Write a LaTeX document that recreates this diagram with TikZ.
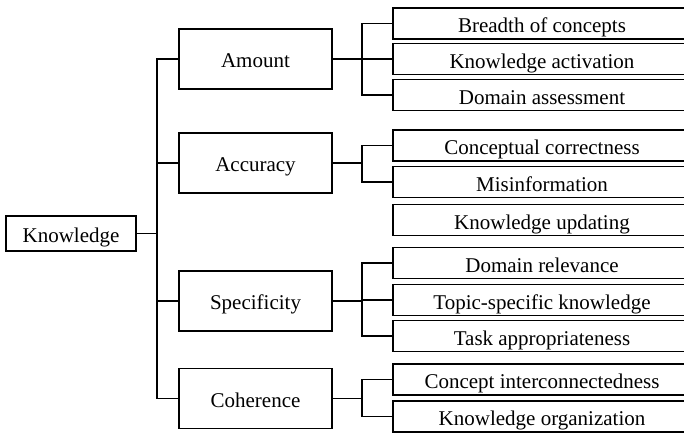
\documentclass[tikz,border=0pt]{standalone}
\usepackage{fontspec}
\setmainfont{Liberation Serif}
\begin{document}
\begin{tikzpicture}[x=1pt,y=-1pt,
  every node/.style={font=\fontsize{21}{25}\selectfont},
  box/.style={draw=black,line width=1.3pt,inner sep=0pt,fill=white,text height=19pt,text depth=2pt},
  rootbox/.style={box,minimum width=130pt,minimum height=35pt},
  midbox/.style={box,minimum width=153pt,minimum height=60pt},
  leafbox/.style={box,minimum width=298pt,minimum height=31pt,text height=19.5pt,text depth=1.5pt},
  conn/.style={draw=black,line width=1.3pt}]
\useasboundingbox (0,0) rectangle (684,434);
% root
\node[rootbox] (know) at (71,233.5) {Knowledge};
% mid level
\node[midbox] (amount) at (255.5,59) {Amount};
\node[midbox] (accuracy) at (255.5,163) {Accuracy};
\node[midbox] (spec) at (255.5,301) {Specificity};
\node[midbox] (coh) at (255.5,398.5) {Coherence};
% leaves
\node[leafbox] (l1) at (542,23.5) {Breadth of concepts};
\node[leafbox] (l2) at (542,59) {Knowledge activation};
\node[leafbox] (l3) at (542,95) {Domain assessment};
\node[leafbox] (l4) at (542,145.5) {Conceptual correctness};
\node[leafbox] (l5) at (542,182) {Misinformation};
\node[leafbox] (l6) at (542,220) {Knowledge updating};
\node[leafbox] (l7) at (542,263) {Domain relevance};
\node[leafbox] (l8) at (542,300) {Topic-specific knowledge};
\node[leafbox] (l9) at (542,336) {Task appropriateness};
\node[leafbox] (l10) at (542,379.5) {Concept interconnectedness};
\node[leafbox] (l11) at (542,416.5) {Knowledge organization};
% trunk
\coordinate (t) at (157,233.5);
\draw[conn] (know.east) -- (t);
\draw[conn] (t) |- (amount.west);
\draw[conn] (t) |- (accuracy.west);
\draw[conn] (t) |- (spec.west);
\draw[conn] (t) |- (coh.west);
% branches
\coordinate (ba) at (362,59);
\draw[conn] (amount.east) -- (ba);
\draw[conn] (ba) |- (l1.west);
\draw[conn] (ba) |- (l2.west);
\draw[conn] (ba) |- (l3.west);
\coordinate (bb) at (362,163);
\draw[conn] (accuracy.east) -- (bb);
\draw[conn] (bb) |- (l4.west);
\draw[conn] (bb) |- (l5.west);
\coordinate (bc) at (362,301);
\draw[conn] (spec.east) -- (bc);
\draw[conn] (bc) |- (l7.west);
\draw[conn] (bc) |- (l8.west);
\draw[conn] (bc) |- (l9.west);
\coordinate (bd) at (362,398.5);
\draw[conn] (coh.east) -- (bd);
\draw[conn] (bd) |- (l10.west);
\draw[conn] (bd) |- (l11.west);
\end{tikzpicture}
\end{document}
